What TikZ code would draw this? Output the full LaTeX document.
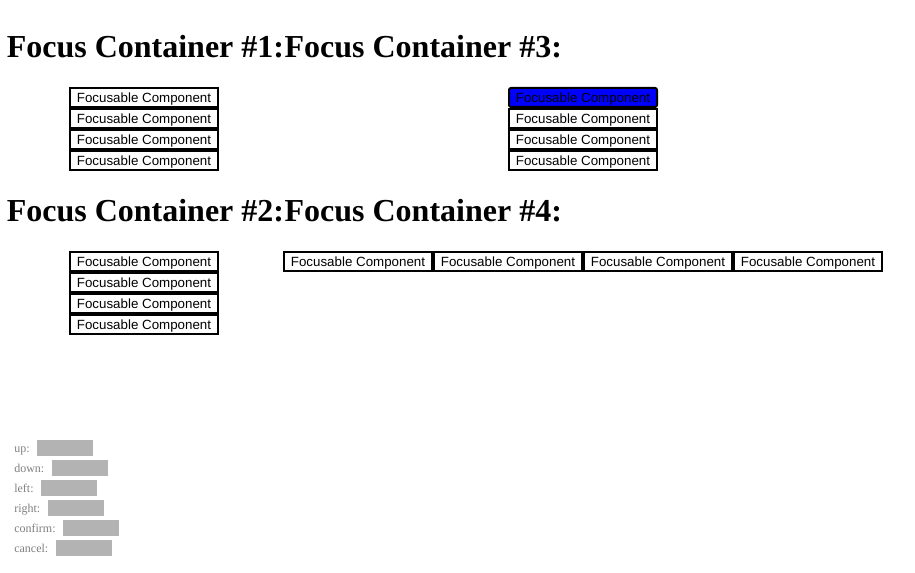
\documentclass[tikz,border=0pt]{standalone}
\usepackage{fontspec}
\setmainfont{Liberation Serif}
\newfontfamily\arialfont{Liberation Sans}
\usetikzlibrary{positioning}
\definecolor{focusblue}{HTML}{0000FF}
\definecolor{keygrey}{HTML}{B3B3B3}
\definecolor{labelgrey}{HTML}{7F7F7F}

\begin{document}
\begin{tikzpicture}[x=0.75pt, y=-0.75pt,
    heading/.style={inner sep=0, anchor=base west, font=\fontsize{24}{28}\selectfont\bfseries},
    comp/.style={draw=black, line width=1.5pt, fill=white, inner sep=0, minimum width=111pt, minimum height=14.25pt, text height=9.2pt, text depth=2.1pt, font=\arialfont\fontsize{10}{12}\selectfont},
    focused/.style={comp, fill=focusblue, rounded corners=1.5pt},
    keylabel/.style={inner sep=0, anchor=base west, text=labelgrey, font=\fontsize{9}{11}\selectfont},
    keybox/.style={fill=keygrey, inner sep=0, minimum width=42pt, minimum height=12pt}]
  \useasboundingbox (0,0) rectangle (915,573);
  % headings
  \node[heading] (h1) at (6.5,57.5) {Focus Container \#1:};
  \node[heading] (h3) at (h1.base east) {Focus Container \#3:};
  \node[heading] (h2) at (6.5,221.5) {Focus Container \#2:};
  \node[heading] (h4) at (h2.base east) {Focus Container \#4:};
  % container 1
  \node[comp] (c1a) at (144,97.5) {Focusable Component};
  \foreach \i/\j in {a/b,b/c,c/d}
    \node[comp, below=0pt of c1\i] (c1\j) {Focusable Component};
  % container 3, first one has focus
  \node[focused] (c3a) at (583,97.5) {Focusable Component};
  \node[comp, below=0pt of c3a] (c3b) {Focusable Component};
  \foreach \i/\j in {b/c,c/d}
    \node[comp, below=0pt of c3\i] (c3\j) {Focusable Component};
  % container 2
  \node[comp] (c2a) at (144,261.5) {Focusable Component};
  \foreach \i/\j in {a/b,b/c,c/d}
    \node[comp, below=0pt of c2\i] (c2\j) {Focusable Component};
  % container 4, in a row
  \node[comp] (c4a) at (358,261.5) {Focusable Component};
  \foreach \i/\j in {a/b,b/c,c/d}
    \node[comp, right=0pt of c4\i] (c4\j) {Focusable Component};
  % key bindings
  \foreach \key/\yy in {up/452.7, down/472.7, left/492.7, right/512.7, confirm/532.7, cancel/552.7} {
    \node[keylabel] (lbl-\key) at (14,\yy) {\key:};
    \node[keybox, right=5.25pt of lbl-\key.base east, yshift=3.5pt] (box-\key) {};
  }
\end{tikzpicture}
\end{document}
